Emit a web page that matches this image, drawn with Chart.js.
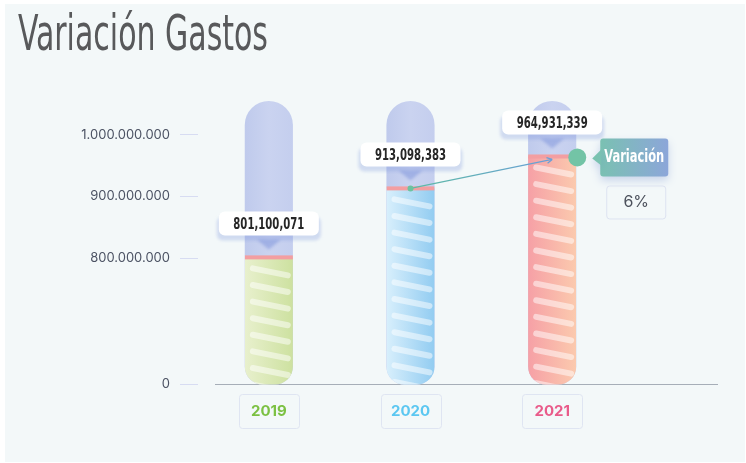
<!DOCTYPE html>
<html lang="es">
<head>
    <meta charset="utf-8">
    <title>Variación Gastos</title>
    <script src="https://cdn.jsdelivr.net/npm/chart.js@4.4.0/dist/chart.umd.min.js"></script>
    <style>
        html, body { margin: 0; padding: 0; background: #ffffff; }
    </style>
</head>
<body>
    <canvas id="myChart" width="746" height="463"></canvas>

    <script>
        // datos
        const years = ['2019', '2020', '2021'];
        const gastos = [801100071, 913098383, 964931339];
        const yTicks = [0, 800000000, 900000000, 1000000000];
        const titulo = 'Variación Gastos';

        // eje cortado: 0..800M abajo, 800M..max arriba
        const axisBreak = 800000000;
        const axisMax = 1055000000;
        const breakFrac = 0.445;

        const condensed = "'DejaVu Sans Condensed', 'Liberation Sans Narrow', sans-serif";
        const yearColors = ['#7cc143', '#5cc7f1', '#e95b8a'];
        const fillLeft = ['#e8f0cd', '#d8effc', '#f6a0a6'];
        const fillRight = ['#cde1a0', '#92ccf1', '#fbcaae'];

        function withDots(v) {
            return String(v).replace(/\B(?=(\d{3})+(?!\d))/g, '.');
        }
        function withCommas(v) {
            return String(v).replace(/\B(?=(\d{3})+(?!\d))/g, ',');
        }

        // texto estrecho (la fuente original es tipo Oswald)
        function narrowText(ctx, text, x, y, font, width) {
            ctx.save();
            ctx.font = font;
            const sx = width / ctx.measureText(text).width;
            ctx.translate(x, y);
            ctx.scale(sx, 1);
            ctx.fillText(text, 0, 0);
            ctx.restore();
        }

        const variacion = Math.round((gastos[2] - gastos[1]) / gastos[1] * 100);

        class BrokenScale extends Chart.LinearScale {
            getPixelForValue(value) {
                let d;
                if (value <= axisBreak) d = value / axisBreak * breakFrac;
                else d = breakFrac + (value - axisBreak) / (this.max - axisBreak) * (1 - breakFrac);
                return this.getPixelForDecimal(d);
            }
            getValueForPixel(pixel) {
                const d = this.getDecimalForPixel(pixel);
                if (d <= breakFrac) return d / breakFrac * axisBreak;
                return axisBreak + (d - breakFrac) / (1 - breakFrac) * (this.max - axisBreak);
            }
        }
        BrokenScale.id = 'broken';
        BrokenScale.defaults = Chart.LinearScale.defaults;
        Chart.register(BrokenScale);

        const tubes = {
            id: 'tubes',
            beforeDraw(chart) {
                const ctx = chart.ctx;
                ctx.save();
                ctx.fillStyle = '#ffffff';
                ctx.fillRect(0, 0, chart.width, chart.height);
                ctx.fillStyle = '#f3f8f9';
                ctx.fillRect(5, 4, 740, 458);

                ctx.fillStyle = '#58595b';
                ctx.textAlign = 'left';
                ctx.textBaseline = 'alphabetic';
                narrowText(ctx, titulo, 18, 50, '49px ' + condensed, 250);
                ctx.restore();
            },
            beforeDatasetsDraw(chart) {
                const ctx = chart.ctx;
                const area = chart.chartArea;
                ctx.save();
                ctx.strokeStyle = '#a6aeb8';
                ctx.lineWidth = 1;
                ctx.beginPath();
                ctx.moveTo(area.left + 17, area.bottom + 0.5);
                ctx.lineTo(area.right + 95, area.bottom + 0.5);
                ctx.stroke();
                ctx.restore();
            },
            afterDatasetsDraw(chart) {
                const ctx = chart.ctx;
                const area = chart.chartArea;
                const meta = chart.getDatasetMeta(0);

                meta.data.forEach((bar, i) => {
                    const x = bar.x, w = bar.width, half = w / 2;
                    const left = x - half, top = area.top, bottom = bar.base;

                    ctx.save();
                    ctx.beginPath();
                    ctx.roundRect(left, top, w, bottom - top + 1, [half, half, 18, 18]);
                    const tg = ctx.createLinearGradient(left, 0, left + w, 0);
                    tg.addColorStop(0, '#bfcaec');
                    tg.addColorStop(0.5, '#cad3f0');
                    tg.addColorStop(1, '#c4ceee');
                    ctx.fillStyle = tg;
                    ctx.fill();
                    ctx.clip();

                    const fg = ctx.createLinearGradient(left, 0, left + w, 0);
                    fg.addColorStop(0, fillLeft[i]);
                    fg.addColorStop(1, fillRight[i]);
                    ctx.fillStyle = fg;
                    ctx.fillRect(left, bar.y, w, bottom - bar.y + 2);

                    // rayas
                    ctx.strokeStyle = 'rgba(255,255,255,0.5)';
                    ctx.lineWidth = 6;
                    ctx.lineCap = 'round';
                    for (let y = bar.y + 11; y < bottom + 6; y += 16.6) {
                        ctx.beginPath();
                        ctx.moveTo(x - 16, y);
                        ctx.lineTo(x + 19, y + 7);
                        ctx.stroke();
                    }

                    ctx.fillStyle = '#f39ea1';
                    ctx.fillRect(left, bar.y - 2, w, 4);
                    ctx.restore();

                    // etiqueta
                    const bw = 100, bh = 24;
                    const by = bar.y - 22 - bh;
                    ctx.save();
                    ctx.filter = 'blur(1.5px)';
                    ctx.fillStyle = 'rgba(120,145,220,0.28)';
                    ctx.beginPath();
                    ctx.roundRect(x - bw / 2 - 2, by + 5, bw + 4, bh, 6);
                    ctx.fill();
                    ctx.beginPath();
                    ctx.moveTo(x - 12, by + bh + 4);
                    ctx.lineTo(x + 12, by + bh + 4);
                    ctx.lineTo(x, by + bh + 14);
                    ctx.closePath();
                    ctx.fillStyle = 'rgba(110,135,215,0.45)';
                    ctx.fill();
                    ctx.restore();

                    ctx.save();
                    ctx.fillStyle = '#ffffff';
                    ctx.beginPath();
                    ctx.roundRect(x - bw / 2, by, bw, bh, 6);
                    ctx.fill();
                    ctx.fillStyle = '#262626';
                    ctx.textAlign = 'center';
                    ctx.textBaseline = 'middle';
                    narrowText(ctx, withCommas(gastos[i]), x, by + bh / 2 + 1, 'bold 16px ' + condensed, 71);
                    ctx.restore();
                });

                // linea de variacion
                const b1 = meta.data[1], b2 = meta.data[2];
                ctx.save();
                const lg = ctx.createLinearGradient(b1.x, 0, b2.x, 0);
                lg.addColorStop(0, '#5dbba3');
                lg.addColorStop(1, '#6a9fd8');
                ctx.strokeStyle = lg;
                ctx.lineWidth = 1.3;
                ctx.beginPath();
                ctx.moveTo(b1.x, b1.y);
                ctx.lineTo(b2.x, b2.y + 3);
                ctx.stroke();
                const ang = Math.atan2(b2.y + 3 - b1.y, b2.x - b1.x);
                ctx.beginPath();
                ctx.moveTo(b2.x, b2.y + 3);
                ctx.lineTo(b2.x - 6 * Math.cos(ang - 0.5), b2.y + 3 - 6 * Math.sin(ang - 0.5));
                ctx.moveTo(b2.x, b2.y + 3);
                ctx.lineTo(b2.x - 6 * Math.cos(ang + 0.5), b2.y + 3 - 6 * Math.sin(ang + 0.5));
                ctx.stroke();

                ctx.fillStyle = '#6cc39f';
                ctx.beginPath();
                ctx.arc(b1.x, b1.y, 3, 0, Math.PI * 2);
                ctx.fill();

                const dx = b2.x + b2.width / 2 + 1, dy = b2.y + 1;
                ctx.fillStyle = '#73c4a6';
                ctx.beginPath();
                ctx.arc(dx, dy, 9, 0, Math.PI * 2);
                ctx.fill();

                // caja "Variación"
                ctx.save();
                ctx.shadowColor = 'rgba(100,130,200,0.3)';
                ctx.shadowBlur = 8;
                ctx.shadowOffsetY = 4;
                const vg = ctx.createLinearGradient(dx + 15, 0, dx + 91, 0);
                vg.addColorStop(0, '#78c4ad');
                vg.addColorStop(1, '#8ca6d9');
                ctx.fillStyle = vg;
                ctx.beginPath();
                ctx.roundRect(dx + 23, dy - 19, 68, 38, 3);
                ctx.fill();
                ctx.beginPath();
                ctx.moveTo(dx + 24, dy - 8);
                ctx.lineTo(dx + 15, dy + 1);
                ctx.lineTo(dx + 24, dy + 8);
                ctx.closePath();
                ctx.fill();
                ctx.restore();

                ctx.fillStyle = '#ffffff';
                ctx.textAlign = 'center';
                ctx.textBaseline = 'middle';
                narrowText(ctx, 'Variación', dx + 57, dy, 'bold 18px ' + condensed, 60);

                ctx.strokeStyle = '#dde3f1';
                ctx.lineWidth = 1;
                ctx.beginPath();
                ctx.roundRect(dx + 29.5, dy + 28.5, 59, 33, 3);
                ctx.stroke();
                ctx.fillStyle = '#4c515c';
                ctx.font = '16px Inter, sans-serif';
                ctx.fillText(variacion + '%', dx + 59, dy + 45);
                ctx.restore();
            },
            afterDraw(chart) {
                const ctx = chart.ctx;
                const xs = chart.scales.x;
                const area = chart.chartArea;
                ctx.save();
                ctx.strokeStyle = '#dfe5f2';
                ctx.lineWidth = 1;
                years.forEach((y, i) => {
                    const px = Math.round(xs.getPixelForTick(i));
                    ctx.beginPath();
                    ctx.roundRect(px - 29.5, area.bottom + 10.5, 60, 34, 3);
                    ctx.stroke();
                });
                ctx.restore();
            }
        };

        const myChart = new Chart(document.getElementById('myChart'), {
            type: 'bar',
            data: {
                labels: years,
                datasets: [{
                    label: 'Gastos',
                    data: gastos,
                    backgroundColor: 'rgba(0,0,0,0)',
                    barPercentage: 0.34,
                    categoryPercentage: 1
                }]
            },
            options: {
                responsive: false,
                animation: false,
                layout: { padding: { left: 18, right: 123, top: 101, bottom: 0 } },
                plugins: {
                    legend: { display: false },
                    tooltip: { enabled: false },
                    title: { display: false }
                },
                scales: {
                    x: {
                        type: 'category',
                        offset: true,
                        grid: { display: false, drawTicks: false },
                        border: { display: false },
                        ticks: {
                            color: ctx => yearColors[ctx.index],
                            font: { family: 'Inter, sans-serif', size: 15, weight: 'bold' },
                            padding: 18
                        },
                        afterFit: s => { s.height = 79; }
                    },
                    y: {
                        type: 'broken',
                        min: 0,
                        max: axisMax,
                        border: { display: false },
                        grid: { drawOnChartArea: false, drawTicks: true, tickLength: 18, color: '#d7dcf2' },
                        ticks: {
                            color: '#4b5263',
                            font: { family: 'Inter, sans-serif', size: 13 },
                            padding: 10,
                            callback: v => withDots(v)
                        },
                        afterBuildTicks: s => { s.ticks = yTicks.map(v => ({ value: v })); },
                        afterFit: s => { s.width = 180; }
                    }
                }
            },
            plugins: [tubes]
        });
    </script>
</body>
</html>
